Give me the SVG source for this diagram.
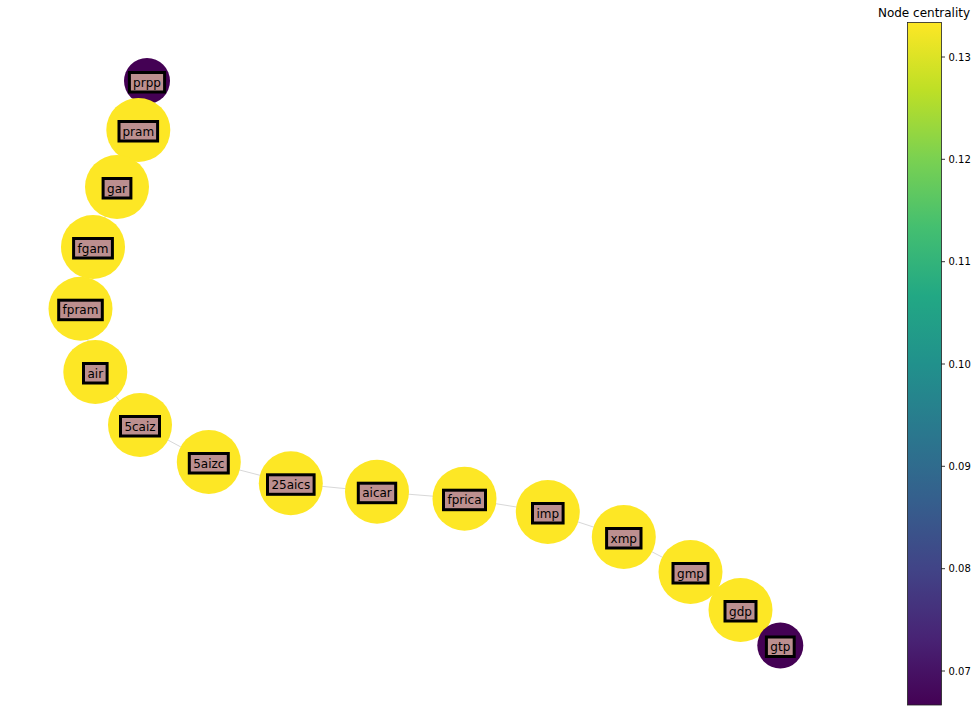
<svg xmlns="http://www.w3.org/2000/svg" width="977" height="712" viewBox="0 0 977 712">
<style>
.y{fill:#fde725}
.p{fill:#440154}
.lb{fill:#bc8f8f;stroke:#000;stroke-width:3}
.t{font-family:"DejaVu Sans",sans-serif;font-size:12px;fill:#000;text-anchor:middle}
.tk{font-family:"DejaVu Sans",sans-serif;font-size:10px;fill:#000}
.e{stroke:#d8d8d8;stroke-width:1;fill:none}
</style>
<defs>
<linearGradient id="vir" x1="0" y1="1" x2="0" y2="0">
<stop offset="0" stop-color="#440154"/>
<stop offset="0.1" stop-color="#482475"/>
<stop offset="0.2" stop-color="#414487"/>
<stop offset="0.3" stop-color="#355f8d"/>
<stop offset="0.4" stop-color="#2a788e"/>
<stop offset="0.5" stop-color="#21918c"/>
<stop offset="0.6" stop-color="#22a884"/>
<stop offset="0.7" stop-color="#44bf70"/>
<stop offset="0.8" stop-color="#7ad151"/>
<stop offset="0.9" stop-color="#bddf26"/>
<stop offset="1" stop-color="#fde725"/>
</linearGradient>
</defs>
<rect width="977" height="712" fill="#fff"/>
<g id="edges">
<polyline class="e" points="147,81 138.3,130 117,187 93,247 80.5,308.7 95.3,372 140,425 208.8,462 290.8,483.3 377,491.7 464.5,498.7 547.8,512 623.8,537 690.5,572 740.5,610 780.3,645.5"/>
</g>
<g id="node-circles">
<circle id="c-prpp" class="p" cx="147" cy="81" r="23"/>
<circle id="c-pram" class="y" cx="138.3" cy="130" r="32"/>
<circle id="c-gar" class="y" cx="117" cy="187" r="32"/>
<circle id="c-fgam" class="y" cx="93" cy="247" r="32"/>
<circle id="c-fpram" class="y" cx="80.5" cy="308.7" r="32"/>
<circle id="c-air" class="y" cx="95.3" cy="372" r="32"/>
<circle id="c-5caiz" class="y" cx="140" cy="425" r="32"/>
<circle id="c-5aizc" class="y" cx="208.8" cy="462" r="32"/>
<circle id="c-25aics" class="y" cx="290.8" cy="483.3" r="32"/>
<circle id="c-aicar" class="y" cx="377" cy="491.7" r="32"/>
<circle id="c-fprica" class="y" cx="464.5" cy="498.7" r="32"/>
<circle id="c-imp" class="y" cx="547.8" cy="512" r="32"/>
<circle id="c-xmp" class="y" cx="623.8" cy="537" r="32"/>
<circle id="c-gmp" class="y" cx="690.5" cy="572" r="32"/>
<circle id="c-gdp" class="y" cx="740.5" cy="610" r="32"/>
<circle id="c-gtp" class="p" cx="780.3" cy="645.5" r="23"/>
</g>
<g id="prpp"><rect class="lb" x="129.4" y="72.5" width="35.2" height="19.5"/><text class="t" x="147" y="86.5">prpp</text></g>
<g id="pram"><rect class="lb" x="119" y="121.5" width="38.6" height="19.5"/><text class="t" x="138.3" y="135.5">pram</text></g>
<g id="gar"><rect class="lb" x="103.1" y="178.5" width="27.8" height="19.5"/><text class="t" x="117" y="192.5">gar</text></g>
<g id="fgam"><rect class="lb" x="73.6" y="238.5" width="38.8" height="19.5"/><text class="t" x="93" y="252.5">fgam</text></g>
<g id="fpram"><rect class="lb" x="58.7" y="300.2" width="43.6" height="19.5"/><text class="t" x="80.5" y="314.2">fpram</text></g>
<g id="air"><rect class="lb" x="83.5" y="363.5" width="23.6" height="19.5"/><text class="t" x="95.3" y="377.5">air</text></g>
<g id="5caiz"><rect class="lb" x="120.5" y="416.5" width="39" height="19.5"/><text class="t" x="140" y="430.5">5caiz</text></g>
<g id="5aizc"><rect class="lb" x="189.3" y="453.5" width="39" height="19.5"/><text class="t" x="208.8" y="467.5">5aizc</text></g>
<g id="25aics"><rect class="lb" x="267.5" y="474.8" width="46.6" height="19.5"/><text class="t" x="290.8" y="488.8">25aics</text></g>
<g id="aicar"><rect class="lb" x="358.3" y="483.2" width="37.4" height="19.5"/><text class="t" x="377" y="497.2">aicar</text></g>
<g id="fprica"><rect class="lb" x="443.5" y="490.2" width="42" height="19.5"/><text class="t" x="464.5" y="504.2">fprica</text></g>
<g id="imp"><rect class="lb" x="532.5" y="503.5" width="30.6" height="19.5"/><text class="t" x="547.8" y="517.5">imp</text></g>
<g id="xmp"><rect class="lb" x="606.6" y="528.5" width="34.4" height="19.5"/><text class="t" x="623.8" y="542.5">xmp</text></g>
<g id="gmp"><rect class="lb" x="673" y="563.5" width="35" height="19.5"/><text class="t" x="690.5" y="577.5">gmp</text></g>
<g id="gdp"><rect class="lb" x="725" y="601.5" width="31" height="19.5"/><text class="t" x="740.5" y="615.5">gdp</text></g>
<g id="gtp"><rect class="lb" x="766.4" y="637" width="27.8" height="19.5"/><text class="t" x="780.3" y="651">gtp</text></g>
<g id="colorbar">
<text x="924" y="17" style="font-family:'DejaVu Sans',sans-serif;font-size:12px;fill:#000;text-anchor:middle">Node centrality</text>
<rect x="907.5" y="22.5" width="34" height="682.5" fill="url(#vir)" stroke="#222" stroke-width="0.8"/>
<g stroke="#000" stroke-width="0.8">
<line x1="941.5" y1="57" x2="945" y2="57"/>
<line x1="941.5" y1="159.3" x2="945" y2="159.3"/>
<line x1="941.5" y1="261.7" x2="945" y2="261.7"/>
<line x1="941.5" y1="364" x2="945" y2="364"/>
<line x1="941.5" y1="466.3" x2="945" y2="466.3"/>
<line x1="941.5" y1="568.7" x2="945" y2="568.7"/>
<line x1="941.5" y1="671" x2="945" y2="671"/>
</g>
<text class="tk" x="948.5" y="60.6">0.13</text>
<text class="tk" x="948.5" y="162.9">0.12</text>
<text class="tk" x="948.5" y="265.3">0.11</text>
<text class="tk" x="948.5" y="367.6">0.10</text>
<text class="tk" x="948.5" y="469.9">0.09</text>
<text class="tk" x="948.5" y="572.3">0.08</text>
<text class="tk" x="948.5" y="674.6">0.07</text>
</g>
</svg>
